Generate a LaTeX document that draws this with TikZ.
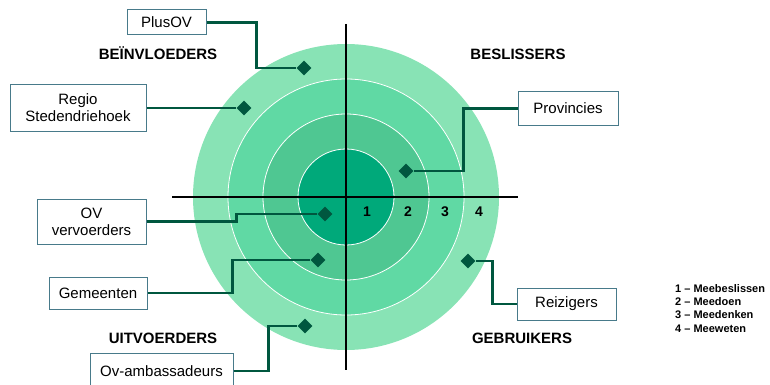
\documentclass[tikz,border=0pt]{standalone}
\usepackage{fontspec}
\setmainfont{Liberation Sans}
\usepackage{xcolor}
\usetikzlibrary{shapes.geometric}

\definecolor{ringA}{RGB}{0,169,122}
\definecolor{ringB}{RGB}{79,199,146}
\definecolor{ringC}{RGB}{96,217,164}
\definecolor{ringD}{RGB}{136,227,181}
\definecolor{pin}{RGB}{0,87,63}
\definecolor{frame}{RGB}{72,122,138}

\begin{document}
\begin{tikzpicture}[x=1pt, y=-1pt,
    actor/.style={draw=frame, line width=1pt, fill=white, align=center, inner sep=0pt,
        font=\fontsize{15}{17}\selectfont},
    spot/.style={diamond, fill=pin, minimum size=15pt, inner sep=0pt},
    link/.style={draw=pin, line width=2.6pt},
    group/.style={anchor=base, font=\bfseries\fontsize{15}{17}\selectfont},
    level/.style={anchor=base, font=\bfseries\fontsize{14}{16}\selectfont}]

    \useasboundingbox (0,0) rectangle (770,385);
    \coordinate (o) at (346,197);

    \fill[ringD] (o) circle[radius=153pt];
    \filldraw[fill=ringC, draw=white, line width=0.8pt] (o) circle[radius=118pt];
    \filldraw[fill=ringB, draw=white, line width=0.8pt] (o) circle[radius=83pt];
    \filldraw[fill=ringA, draw=white, line width=0.8pt] (o) circle[radius=48pt];

    \draw[line width=2.8pt] (172,197) -- (518,197);
    \draw[line width=2.8pt] (346,24) -- (346,370);

    \node[level] (n1) at (367,216) {1};
    \node[level] (n2) at (408,216) {2};
    \node[level] (n3) at (445,216) {3};
    \node[level] (n4) at (479,216) {4};

    \node[group] (infl) at (158,59.5) {BEÏNVLOEDERS};
    \node[group] (decide) at (518,59.5) {BESLISSERS};
    \node[group] (exec) at (163,343.5) {UITVOERDERS};
    \node[group] (users) at (522,343.5) {GEBRUIKERS};

    \node[actor, minimum width=79pt, minimum height=25pt] (plusov) at (166.5,22.5) {PlusOV};
    \node[actor, minimum width=136pt, minimum height=46pt] (regio) at (78,108) {Regio\\Stedendriehoek};
    \node[actor, minimum width=100pt, minimum height=33pt] (prov) at (568,108.5) {Provincies};
    \node[actor, minimum width=109pt, minimum height=45pt] (ov) at (91.5,221.5) {OV\\vervoerders};
    \node[actor, minimum width=98pt, minimum height=32pt] (gem) at (98,293) {Gemeenten};
    \node[actor, minimum width=143pt, minimum height=36pt] (amb) at (161.5,371) {Ov-ambassadeurs};
    \node[actor, minimum width=99pt, minimum height=32pt] (reiz) at (566.5,304) {Reizigers};

    \node[spot] (d1) at (304,68) {};
    \node[spot] (d2) at (244,108) {};
    \node[spot] (d3) at (406,171) {};
    \node[spot] (d4) at (325,214) {};
    \node[spot] (d5) at (318,260) {};
    \node[spot] (d6) at (305,326) {};
    \node[spot] (d7) at (468,261) {};

    \draw[link]
        (plusov.east) -- ++(50,0) |- (d1)
        (regio.east) -- (d2)
        (prov.west) -- ++(-54,0) |- (d3)
        (ov.east) -- ++(90,0) |- (d4)
        (gem.east) -- ++(85,0) |- (d5)
        (amb.east) -- ++(35,0) |- (d6)
        (reiz.west) -- ++(-24,0) |- (d7);

    \node[anchor=north west, inner sep=0pt, align=left,
        font=\bfseries\fontsize{11}{13.3}\selectfont] (legend) at (675,284)
        {1 -- Meebeslissen\\2 -- Meedoen\\3 -- Meedenken\\4 -- Meeweten};

\end{tikzpicture}
\end{document}
